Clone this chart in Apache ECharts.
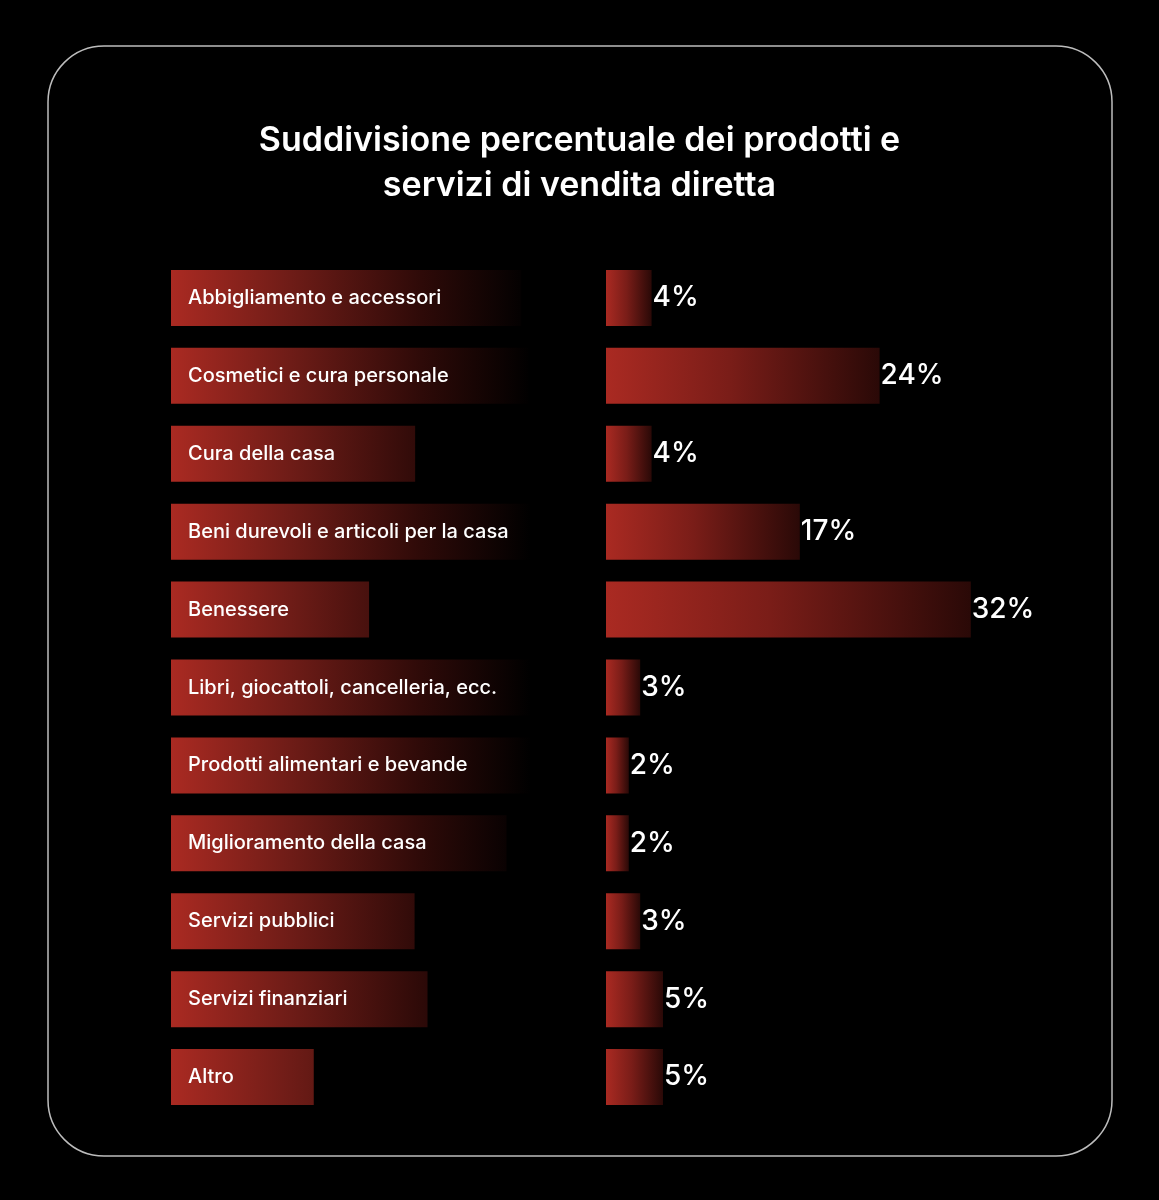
<!DOCTYPE html>
<html>
<head>
<meta charset="utf-8">
<script src="https://cdn.jsdelivr.net/npm/echarts@6/dist/echarts.min.js"></script>
<style>
  html, body { margin: 0; padding: 0; background: #000; }
  #chart { width: 1159px; height: 1200px; }
</style>
</head>
<body>
<div id="chart"></div>
<script>
const categories = [
  'Abbigliamento e accessori',
  'Cosmetici e cura personale',
  'Cura della casa',
  'Beni durevoli e articoli per la casa',
  'Benessere',
  'Libri, giocattoli, cancelleria, ecc.',
  'Prodotti alimentari e bevande',
  'Miglioramento della casa',
  'Servizi pubblici',
  'Servizi finanziari',
  'Altro',
]
const shares = [4, 24, 4, 17, 32, 3, 2, 2, 3, 5, 5]

const titleLines = ['Suddivisione percentuale dei prodotti e', 'servizi di vendita diretta']

const labelFont = '500 20px Inter, sans-serif'
const padLeft = 17
const padRight = 80

// one shared red-to-black ramp (in px from the box's left edge);
// short boxes are cut off before they reach black
const ramp = [
  [0, [170, 42, 34]],
  [120, [110, 28, 23]],
  [250, [46, 10, 8]],
  [360, [0, 0, 0]],
]

function rampColor(px) {
  for (let i = 1; i < ramp.length; i++) {
    if (px <= ramp[i][0]) {
      const [p0, c0] = ramp[i - 1]
      const [p1, c1] = ramp[i]
      const t = (px - p0) / (p1 - p0)
      return 'rgb(' + c0.map((v, k) => Math.round(v + (c1[k] - v) * t)).join(',') + ')'
    }
  }
  return 'rgb(0,0,0)'
}

const measure = document.createElement('canvas').getContext('2d')
measure.font = labelFont

function boxGradient(text) {
  const w = padLeft + measure.measureText(text).width + padRight
  const stops = []
  ramp.forEach(([px]) => {
    if (px < w) stops.push({ offset: px / w, color: rampColor(px) })
  })
  stops.push({ offset: 1, color: rampColor(w) })
  return new echarts.graphic.LinearGradient(0, 0, 1, 0, stops)
}

// align is not inherited by per-item label styles, so repeat it here
const categoryItems = categories.map(name => ({
  value: name,
  textStyle: {
    align: 'left',
    padding: [0, padRight, 0, padLeft],
    backgroundColor: boxGradient(name),
  },
}))

const barFade = new echarts.graphic.LinearGradient(0, 0, 1, 0, [
  { offset: 0, color: '#aa2a22' },
  { offset: 0.45, color: '#7a1d18' },
  { offset: 1, color: '#2a0907' },
])

const chart = echarts.init(document.getElementById('chart'), null, { renderer: 'canvas' })

chart.setOption({
  backgroundColor: '#000000',
  textStyle: { fontFamily: 'Inter, sans-serif' },
  title: {
    text: titleLines.join('\n'),
    left: 'center',
    top: 113,
    textStyle: {
      color: '#ffffff',
      fontSize: 34,
      fontWeight: 600,
      lineHeight: 45,
      fontFamily: 'Inter, sans-serif',
    },
  },
  graphic: [
    {
      type: 'rect',
      shape: { x: 48, y: 46, width: 1064, height: 1110, r: 56 },
      style: { fill: 'none', stroke: '#bdbdbd', lineWidth: 1.5 },
      silent: true,
    },
  ],
  grid: { left: 606, right: 97, top: 259, bottom: 84, containLabel: false, outerBoundsMode: 'none' },
  xAxis: {
    type: 'value',
    min: 0,
    max: 40,
    show: false,
  },
  yAxis: {
    type: 'category',
    data: categoryItems,
    inverse: true,
    axisLine: { show: false },
    axisTick: { show: false },
    splitLine: { show: false },
    axisLabel: {
      align: 'left',
      margin: 435,
      color: '#ffffff',
      fontSize: 20,
      fontWeight: 500,
      fontFamily: 'Inter, sans-serif',
      lineHeight: 56,
      padding: [0, padRight, 0, padLeft],
      interval: 0,
    },
  },
  series: [
    {
      type: 'bar',
      data: shares,
      barWidth: 56,
      itemStyle: { color: barFade },
      label: {
        show: true,
        position: 'right',
        distance: 1,
        formatter: '{c}%',
        color: '#ffffff',
        fontSize: 28,
        fontWeight: 500,
        fontFamily: 'Inter, sans-serif',
      },
      silent: true,
    },
  ],
})
</script>
</body>
</html>
